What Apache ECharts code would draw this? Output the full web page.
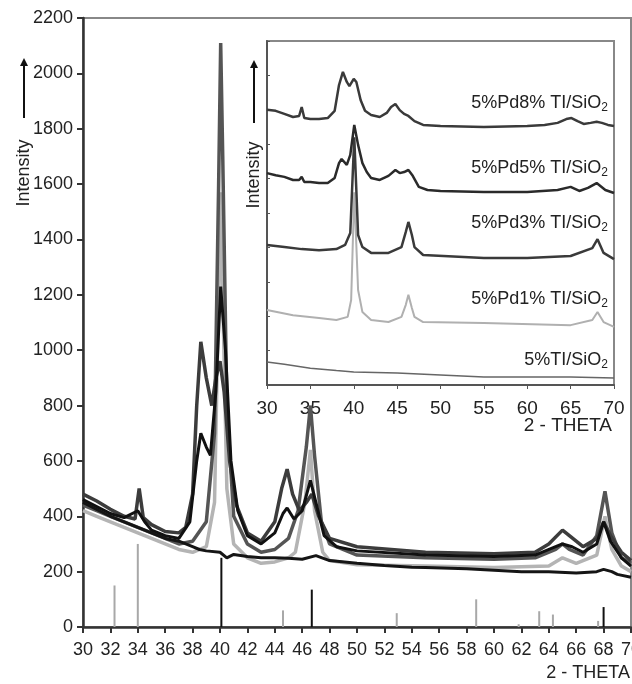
<!DOCTYPE html>
<html>
<head>
<meta charset="utf-8">
<script src="https://cdn.jsdelivr.net/npm/echarts@6/dist/echarts.min.js"></script>
<style>
  html, body { margin: 0; padding: 0; background: #fff; }
  #chart { width: 632px; height: 684px; }
</style>
</head>
<body>
<div id="chart"></div>
<script>
// main XRD curves, [2theta, intensity]
const mainTi = [[30,450],[31,425],[32,400],[33,380],[34,360],[35,340],[36,320],[37,310],[38,290],[38.5,280],[39,275],[40,270],[40.5,250],[41,262],[42,255],[43,250],[44,250],[45,248],[46,245],[47,258],[48,240],[50,230],[52,222],[54,216],[55,215],[58,210],[60,205],[62,200],[64,200],[66,195],[67.5,200],[68,208],[68.6,200],[69,190],[70,180]];
const mainPd1 = [[30,420],[31,400],[32,380],[33,360],[34,340],[35,320],[36,300],[37,280],[38,270],[39,290],[39.6,450],[39.9,1200],[40.05,1570],[40.2,1200],[40.5,500],[41,300],[42,250],[43,230],[44,235],[45,250],[45.5,270],[46.2,450],[46.6,640],[46.9,420],[47.5,270],[48,240],[50,225],[55,220],[60,215],[64,220],[65,250],[66,230],[67.5,260],[68.1,400],[68.6,280],[69.3,220],[70,200]];
const mainPd3 = [[30,440],[31,420],[32,400],[33,380],[34,360],[35,340],[36,320],[37,300],[38,310],[39,380],[39.6,700],[39.9,1600],[40.05,2110],[40.2,1700],[40.5,800],[41,400],[42,300],[43,270],[44,280],[45,320],[45.7,420],[46.3,650],[46.6,800],[46.9,620],[47.4,380],[48,300],[50,260],[55,250],[60,245],[63,250],[64.5,280],[65,300],[65.5,280],[66.5,260],[67.5,330],[68.1,490],[68.6,340],[69.3,250],[70,230]];
const mainPd5 = [[30,460],[31,435],[32,410],[33,395],[34,420],[34.5,380],[35,350],[36,330],[37,320],[37.8,380],[38.3,600],[38.6,700],[39,650],[39.3,620],[39.7,850],[40.05,1230],[40.4,1000],[40.8,600],[41.3,420],[42,330],[43,300],[44,340],[44.6,410],[44.9,430],[45.4,390],[46,420],[46.6,530],[47,450],[47.6,330],[48.5,290],[50,275],[55,260],[60,255],[63,260],[64.5,290],[65,300],[65.7,290],[66.5,270],[67.5,300],[68,380],[68.5,310],[69.3,250],[70,220]];
const mainPd8 = [[30,480],[31,455],[32,425],[33,400],[33.8,390],[34.1,500],[34.4,395],[35,370],[36,345],[37,340],[37.5,360],[38,480],[38.3,800],[38.6,1030],[39,900],[39.4,800],[39.7,900],[40,960],[40.3,850],[40.7,600],[41.2,440],[42,340],[43,310],[44,380],[44.5,500],[44.9,570],[45.3,480],[45.8,420],[46.3,450],[46.7,480],[47.2,400],[48,320],[50,290],[55,270],[60,265],[63,270],[64,300],[65,350],[65.5,330],[66.5,290],[67.5,320],[68,380],[68.5,330],[69.3,270],[70,240]];

// reference stick pattern
const sticksGray = [[32.3,150],[34.0,300],[44.6,60],[52.9,50],[58.7,100],[61.8,10],[63.3,57],[64.3,45],[67.6,22]];
const sticksBlack = [[40.1,250],[46.7,135],[68.0,72]];

// inset curves (offset, arbitrary units)
const insetTi = [[30,67],[32,60],[35,49],[38,42],[40,38],[45,35],[50,29],[55,23],[60,23],[65,23],[70,20]];
const insetPd1 = [[30,218],[33,203],[36,195],[38,189],[39.3,198],[39.7,247],[40.06,560],[40.5,276],[41,212],[42,189],[44,183],[45.5,198],[46,233],[46.3,262],[46.7,224],[47,198],[48,183],[55,180],[65,174],[67.5,189],[68.1,212],[68.8,183],[70,169]];
const insetPd3 = [[30,407],[32,401],[34,395],[36,392],[38,395],[39,407],[39.6,442],[40.06,720],[40.5,436],[41,401],[42,384],[44,384],[45.5,401],[46,445],[46.3,474],[46.7,436],[47,401],[48,378],[55,369],[60,369],[65,375],[67.5,398],[68.1,424],[68.8,384],[70,366]];
const insetPd5 = [[30,616],[31,610],[32,605],[33,596],[33.7,596],[34,605],[34.3,590],[35,590],[36,587],[37,587],[37.8,602],[38.3,645],[38.6,657],[39.2,640],[39.6,669],[40.06,756],[40.5,698],[41,645],[41.5,619],[42,602],[43,596],[44,608],[44.8,625],[45.3,616],[45.8,619],[46.3,625],[46.8,608],[47.5,576],[48.5,567],[50,564],[55,561],[60,561],[63.5,567],[65,576],[66,564],[67,573],[68,587],[69,567],[70,558]];
const insetPd8 = [[30,800],[31,797],[32,788],[33,779],[33.7,782],[34,808],[34.3,776],[35,773],[36,773],[37,776],[37.8,797],[38.3,872],[38.75,910],[39.2,881],[39.5,869],[40,890],[40.3,881],[40.8,828],[41.3,797],[42,785],[43,779],[43.8,791],[44.3,808],[44.8,817],[45.3,799],[45.8,788],[46.3,782],[47,767],[48,756],[50,753],[55,750],[60,753],[62,756],[63.5,762],[64.5,773],[65.1,776],[65.8,767],[66.5,759],[67.3,762],[68,765],[68.6,762],[69.3,756],[70,753]];

const insetNames = ['5%Pd8% TI/SiO', '5%Pd5% TI/SiO', '5%Pd3% TI/SiO', '5%Pd1% TI/SiO', '5%TI/SiO'];
const insetNameY = [103, 168, 223, 299, 360];

const chart = echarts.init(document.getElementById('chart'));
const font = 'Liberation Sans, Arial, sans-serif';

function line(data, color, width, xi) {
  return {
    type: 'line', data: data, xAxisIndex: xi, yAxisIndex: xi,
    symbol: 'none', silent: true, z: xi ? 5 : 2,
    lineStyle: { color: color, width: width }
  };
}

function arrow(x, yTop, yBottom) {
  return [
    { type: 'line', shape: { x1: x, y1: yBottom, x2: x, y2: yTop + 6 }, style: { stroke: '#111', lineWidth: 2 } },
    { type: 'polygon', shape: { points: [[x - 4, yTop + 8], [x + 4, yTop + 8], [x, yTop]] }, style: { fill: '#111' } }
  ];
}

const labelGraphics = insetNames.map(function (t, i) {
  return {
    type: 'text', x: 608, y: insetNameY[i], z: 100,
    style: {
      text: '{n|' + t + '}{s|2}', align: 'right', verticalAlign: 'middle',
      rich: {
        n: { fontSize: 18, fontFamily: font, fill: '#222', lineHeight: 22 },
        s: { fontSize: 12, fontFamily: font, fill: '#222', lineHeight: 12, verticalAlign: 'bottom' }
      }
    }
  };
});

const plain = function (v) { return String(v); };

chart.setOption({
  animation: false,
  backgroundColor: '#fff',
  grid: [
    { left: 83, top: 18, right: 1, bottom: 57, show: true, borderColor: '#888', borderWidth: 2, outerBoundsMode: 'none', containLabel: false },
    { left: 267, top: 41, width: 347, height: 344, show: true, borderColor: '#888', borderWidth: 2, backgroundColor: '#fff', outerBoundsMode: 'none', containLabel: false }
  ],
  xAxis: [
    {
      type: 'value', gridIndex: 0, min: 30, max: 70, interval: 2,
      axisLine: { lineStyle: { color: '#333', width: 2.5 } },
      axisTick: { length: 6, lineStyle: { color: '#333', width: 2 } },
      axisLabel: { fontSize: 18, color: '#222', fontFamily: font, margin: 14, formatter: plain },
      splitLine: { show: false }
    },
    {
      type: 'value', gridIndex: 1, min: 30, max: 70, interval: 5,
      axisLine: { lineStyle: { color: '#555', width: 2 } },
      axisTick: { length: 4, lineStyle: { color: '#555' } },
      axisLabel: { fontSize: 19, color: '#222', fontFamily: font, margin: 14, formatter: plain },
      splitLine: { show: false }
    }
  ],
  yAxis: [
    {
      type: 'value', gridIndex: 0, min: 0, max: 2200, interval: 200,
      axisLine: { show: true, lineStyle: { color: '#333', width: 2.5 } },
      axisTick: { show: true, length: 6, lineStyle: { color: '#333', width: 2 } },
      axisLabel: { fontSize: 18, color: '#222', fontFamily: font, margin: 10, formatter: plain },
      splitLine: { show: false }
    },
    {
      type: 'value', gridIndex: 1, min: 0, max: 1000, interval: 100,
      axisLine: { show: true, lineStyle: { color: '#555', width: 2 } },
      axisTick: { show: true, inside: true, length: 3, lineStyle: { color: '#555' } },
      axisLabel: { show: false },
      splitLine: { show: false }
    }
  ],
  series: [
    { type: 'bar', data: sticksGray, barWidth: 2, xAxisIndex: 0, yAxisIndex: 0, itemStyle: { color: '#a8a8a8' }, silent: true },
    { type: 'bar', data: sticksBlack, barWidth: 2, barGap: '-100%', xAxisIndex: 0, yAxisIndex: 0, itemStyle: { color: '#111' }, silent: true },
    line(mainPd1, '#b4b4b4', 3.5, 0),
    line(mainPd3, '#555', 3.5, 0),
    line(mainPd8, '#3c3c3c', 3.5, 0),
    line(mainPd5, '#111', 3, 0),
    line(mainTi, '#151515', 3, 0),
    line(insetTi, '#666', 1.5, 1),
    line(insetPd1, '#b0b0b0', 2, 1),
    line(insetPd3, '#3a3a3a', 2.5, 1),
    line(insetPd5, '#2a2a2a', 2.5, 1),
    line(insetPd8, '#3a3a3a', 2.5, 1)
  ],
  graphic: [
    { type: 'text', x: 630, y: 673, style: { text: '2 - THETA', fontSize: 18, fontFamily: font, fill: '#222', align: 'right', verticalAlign: 'middle' } },
    { type: 'text', x: 612, y: 426, z: 100, style: { text: '2 - THETA', fontSize: 19, fontFamily: font, fill: '#222', align: 'right', verticalAlign: 'middle' } },
    { type: 'text', x: 24, y: 173, rotation: Math.PI / 2, style: { text: 'Intensity', fontSize: 18, fontFamily: font, fill: '#222', align: 'center', verticalAlign: 'middle' } },
    { type: 'text', x: 254, y: 175, rotation: Math.PI / 2, z: 100, style: { text: 'Intensity', fontSize: 18, fontFamily: font, fill: '#222', align: 'center', verticalAlign: 'middle' } }
  ].concat(arrow(24, 58, 118), arrow(254, 60, 123), labelGraphics)
});
</script>
</body>
</html>
